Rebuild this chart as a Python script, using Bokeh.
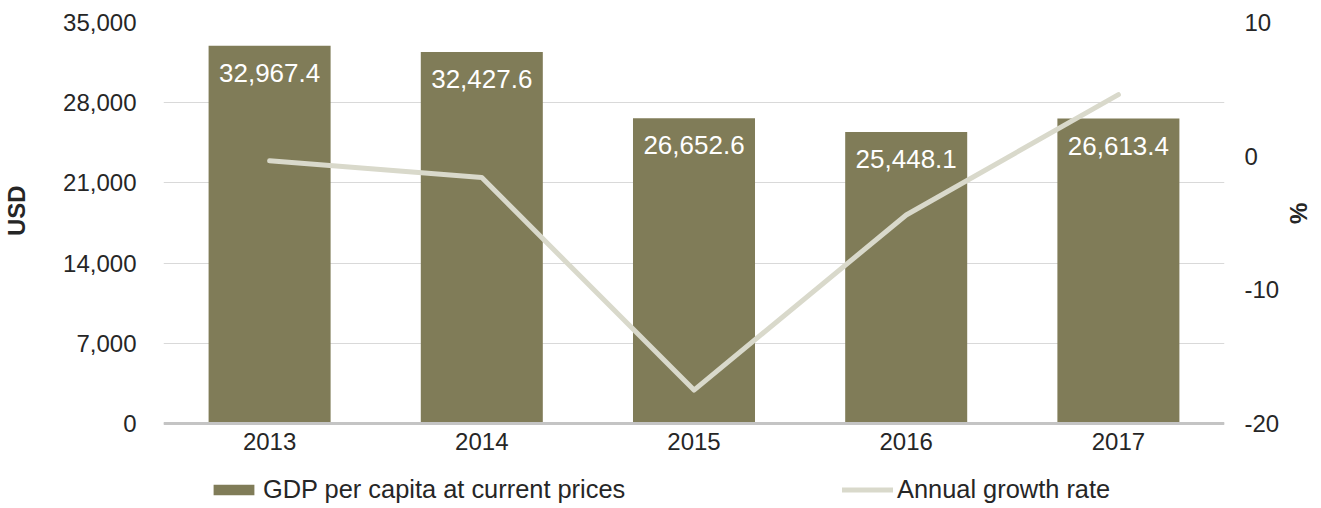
import math
from bokeh.plotting import figure
from bokeh.models import (Range1d, LinearAxis, FixedTicker, NumeralTickFormatter,
                          Legend, LegendItem)
from bokeh.core.properties import value
from bokeh.embed import file_html
from bokeh.resources import INLINE

# ---- data ----
years = [2013, 2014, 2015, 2016, 2017]
gdp_per_capita = [32967.4, 32427.6, 26652.6, 25448.1, 26613.4]
growth_rate = [-0.35, -1.6, -17.5, -4.4, 4.6]
left_ticks = [0, 7000, 14000, 21000, 28000, 35000]
right_ticks = [-20, -10, 0, 10]
gdp_labels = [f"{v:,.1f}" for v in gdp_per_capita]

FONT = "Liberation Sans"
FS = "24px"
FS_DATA = "26px"
FS_LEG = "25.4px"
TXT = "#262626"
BAR = "#807C58"
LINE = "#D9D9CB"
NBSP = "\u00a0"

# layout geometry (pixels)
TOP = 22
PLOT_H = 401          # height of the 0..35000 value area
BELOW = 82            # room under the zero line for tick labels and legend
FRAME_H = PLOT_H + BELOW

L_MAX, R_MIN, R_MAX = 35000, -20, 10
l_min = -BELOW / PLOT_H * L_MAX
r_min_ext = R_MIN - BELOW / PLOT_H * (R_MAX - R_MIN)

p = figure(frame_width=1061, frame_height=FRAME_H,
           x_range=Range1d(2012.5, 2017.5), y_range=Range1d(l_min, L_MAX),
           output_backend="svg", toolbar_location=None,
           min_border_left=155, min_border_right=89,
           min_border_top=TOP, min_border_bottom=0)
p.outline_line_color = None
p.extra_y_ranges = {"pct": Range1d(r_min_ext, R_MAX)}

r_bar = p.vbar(x=years, top=gdp_per_capita, width=0.575, bottom=0,
               fill_color=BAR, line_color=None)
r_line = p.line(x=years, y=growth_rate, y_range_name="pct",
                line_color=LINE, line_width=5, line_cap="round", line_join="round")
p.text(x=years, y=gdp_per_capita, text=gdp_labels, text_align="center",
       text_baseline="middle", y_offset=27, text_color="white",
       text_font_size=FS_DATA, text_font=value(FONT))

# grids
p.xgrid.grid_line_color = None
p.ygrid.ticker = FixedTicker(ticks=left_ticks)
p.ygrid.grid_line_color = "#D9D9D9"
p.ygrid.grid_line_width = 1

# x axis, drawn at the zero line
xa = p.xaxis[0]
xa.fixed_location = 0
xa.ticker = FixedTicker(ticks=years)
xa.axis_line_color = "#C4C4C4"
xa.axis_line_width = 3
xa.major_tick_line_color = None
xa.minor_tick_line_color = None
xa.major_label_standoff = 3
xa.major_label_text_font = FONT
xa.major_label_text_font_size = FS
xa.major_label_text_color = TXT

# left axis
ya = p.yaxis[0]
ya.ticker = FixedTicker(ticks=left_ticks)
ya.formatter = NumeralTickFormatter(format="0,0")
ya.axis_line_color = None
ya.major_tick_line_color = None
ya.minor_tick_line_color = None
ya.major_label_standoff = 21
ya.major_label_text_font = FONT
ya.major_label_text_font_size = FS
ya.major_label_text_color = TXT
ya.axis_label = NBSP * 16 + "USD"
ya.axis_label_text_font = FONT
ya.axis_label_text_font_size = FS
ya.axis_label_text_font_style = "bold"
ya.axis_label_text_color = TXT
ya.axis_label_standoff = 30

# right axis
ra = LinearAxis(y_range_name="pct", ticker=FixedTicker(ticks=right_ticks))
ra.major_label_overrides = {t: str(t) for t in right_ticks}
ra.axis_line_color = None
ra.major_tick_line_color = None
ra.minor_tick_line_color = None
ra.major_label_standoff = 14
ra.major_label_text_font = FONT
ra.major_label_text_font_size = FS
ra.major_label_text_color = TXT
ra.axis_label = NBSP * 6 + "%"
ra.axis_label_orientation = math.pi / 2
ra.axis_label_standoff = 16
ra.axis_label_text_font = FONT
ra.axis_label_text_font_size = FS
ra.axis_label_text_font_style = "bold"
ra.axis_label_text_color = TXT
p.add_layout(ra, "right")


def make_legend(item, loc):
    return Legend(items=[item], location=loc, orientation="horizontal",
                  border_line_color=None, background_fill_alpha=0,
                  padding=0, margin=0, glyph_width=51, glyph_height=13,
                  label_standoff=4, label_height=24,
                  label_text_font=FONT, label_text_font_size=FS_LEG,
                  label_text_color=TXT)


p.add_layout(make_legend(LegendItem(label="GDP per capita at current prices",
                                    renderers=[r_bar]), (45, 1)))
p.add_layout(make_legend(LegendItem(label="Annual growth rate",
                                    renderers=[r_line]), (679, 1)))

open("out.html", "w").write(file_html(p, INLINE))
